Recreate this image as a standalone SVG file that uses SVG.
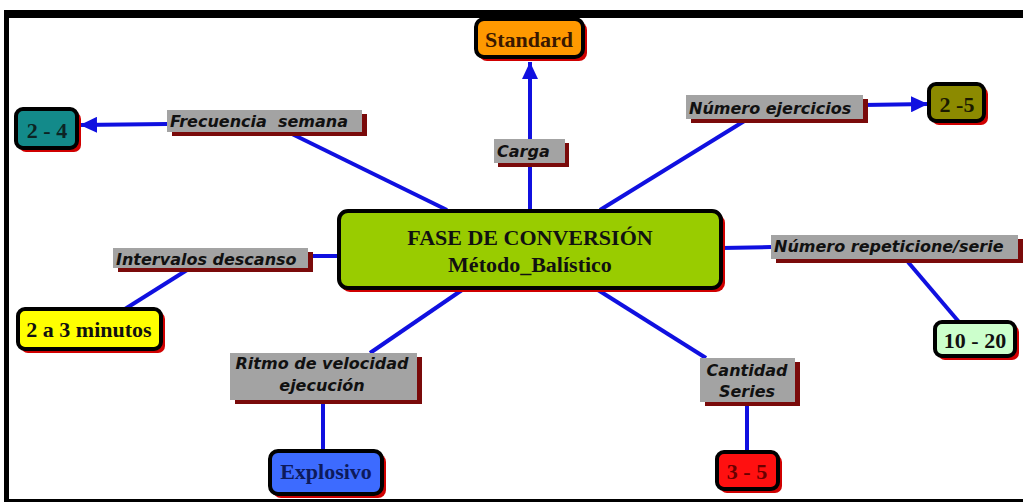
<svg xmlns="http://www.w3.org/2000/svg" width="1023" height="502" viewBox="0 0 1023 502">
  <defs>
    <marker id="arrow" markerUnits="userSpaceOnUse" markerWidth="18" markerHeight="16" refX="17" refY="8" orient="auto">
      <path d="M0,0 L17,8 L0,16 z" fill="#1010e0"/>
    </marker>
  </defs>
  <style>
    .frame { fill: #000; }
    .edge { stroke: #1010e0; stroke-width: 4; fill: none; }
    .nshadow { fill: #d00000; }
    .node { stroke: #000; stroke-width: 4; }
    .ntext { font-family: "Liberation Serif", "Times New Roman", serif; font-weight: bold; font-size: 22px; text-anchor: middle; fill: #111; }
    .lshadow { fill: #7a0a0a; }
    .lbox { fill: #a3a3a3; }
    .ltext { font-family: "DejaVu Sans", Verdana, sans-serif; font-weight: bold; font-style: italic; font-size: 16px; fill: #111; }
    .mid { text-anchor: middle; }
  </style>

  <rect width="1023" height="502" fill="#fff"/>

  <!-- outer frame -->
  <rect class="frame" x="4" y="10" width="1019" height="8"/>
  <rect class="frame" x="4" y="10" width="5" height="492"/>
  <rect class="frame" x="4" y="499" width="1019" height="3"/>

  <!-- connectors -->
  <g id="connectors">
    <line class="edge" x1="530" y1="210" x2="530" y2="163"/>
    <line class="edge" x1="530" y1="139" x2="530" y2="62" marker-end="url(#arrow)"/>
    <line class="edge" x1="447" y1="210" x2="290" y2="133"/>
    <line class="edge" x1="167" y1="124" x2="80" y2="125" marker-end="url(#arrow)"/>
    <line class="edge" x1="600" y1="210" x2="746" y2="120"/>
    <line class="edge" x1="863" y1="105" x2="928" y2="104" marker-end="url(#arrow)"/>
    <line class="edge" x1="722" y1="248" x2="771" y2="247"/>
    <line class="edge" x1="908" y1="262" x2="959" y2="322"/>
    <line class="edge" x1="337" y1="256" x2="310" y2="256"/>
    <line class="edge" x1="187" y1="270" x2="125" y2="309"/>
    <line class="edge" x1="462" y1="290" x2="370" y2="353"/>
    <line class="edge" x1="323" y1="400" x2="323" y2="450"/>
    <line class="edge" x1="598" y1="290" x2="706" y2="358"/>
    <line class="edge" x1="747" y1="402" x2="747" y2="452"/>
  </g>

  <!-- central concept -->
  <g id="fase-conversion">
    <rect class="nshadow" x="341" y="214" width="384" height="78" rx="9"/>
    <rect class="node" x="339" y="211" width="382" height="77" rx="9" fill="#99cc00"/>
    <text class="ntext" x="530" y="245">FASE DE CONVERSIÓN</text>
    <text class="ntext" x="530" y="272">Método_Balístico</text>
  </g>

  <!-- linking phrases -->
  <g id="lbl-carga">
    <rect class="lshadow" x="498" y="143" width="71" height="24"/>
    <rect class="lbox" x="494" y="139" width="71" height="24"/>
    <text class="ltext" x="497" y="157">Carga</text>
  </g>
  <g id="lbl-frecuencia">
    <rect class="lshadow" x="172" y="114" width="195" height="22"/>
    <rect class="lbox" x="167" y="110" width="195" height="22"/>
    <text class="ltext" x="170" y="127">Frecuencia &#160;semana</text>
  </g>
  <g id="lbl-ejercicios">
    <rect class="lshadow" x="691" y="99" width="177" height="24"/>
    <rect class="lbox" x="686" y="95" width="177" height="24"/>
    <text class="ltext" x="689" y="114">Número ejercicios</text>
  </g>
  <g id="lbl-repeticiones">
    <rect class="lshadow" x="776" y="239" width="247" height="24"/>
    <rect class="lbox" x="771" y="235" width="247" height="24"/>
    <text class="ltext" x="774" y="252">Número repeticione/serie</text>
  </g>
  <g id="lbl-intervalos">
    <rect class="lshadow" x="118" y="252" width="195" height="20"/>
    <rect class="lbox" x="113" y="248" width="195" height="20"/>
    <text class="ltext" x="116" y="265">Intervalos descanso</text>
  </g>
  <g id="lbl-ritmo">
    <rect class="lshadow" x="235" y="357" width="187" height="47"/>
    <rect class="lbox" x="230" y="353" width="187" height="47"/>
    <text class="ltext mid" x="322" y="369">Ritmo de velocidad</text>
    <text class="ltext mid" x="322" y="391">ejecución</text>
  </g>
  <g id="lbl-cantidad">
    <rect class="lshadow" x="705" y="362" width="95" height="44"/>
    <rect class="lbox" x="700" y="358" width="95" height="44"/>
    <text class="ltext mid" x="747" y="376">Cantidad</text>
    <text class="ltext mid" x="747" y="397">Series</text>
  </g>

  <!-- value concepts -->
  <g id="standard">
    <rect class="nshadow" x="479" y="22" width="108" height="39" rx="8"/>
    <rect class="node" x="476" y="19" width="107" height="38" rx="8" fill="#ff9900"/>
    <text class="ntext" x="529" y="47" fill="#3a1800" style="fill:#3a1800">Standard</text>
  </g>
  <g id="v-2-4">
    <rect class="nshadow" x="19" y="112" width="62" height="40" rx="7"/>
    <rect class="node" x="16" y="109" width="61" height="39" rx="7" fill="#138a8a"/>
    <text class="ntext" x="47" y="138" style="fill:#0c2424">2 - 4</text>
  </g>
  <g id="v-2-5">
    <rect class="nshadow" x="932" y="87" width="56" height="38" rx="7"/>
    <rect class="node" x="929" y="84" width="55" height="37" rx="7" fill="#8c8a00"/>
    <text class="ntext" x="957" y="112" style="fill:#1a1a00">2 -5</text>
  </g>
  <g id="v-10-20">
    <rect class="nshadow" x="938" y="325" width="81" height="35" rx="7"/>
    <rect class="node" x="935" y="322" width="80" height="34" rx="7" fill="#ccffcc"/>
    <text class="ntext" x="975" y="348">10 - 20</text>
  </g>
  <g id="v-2a3">
    <rect class="nshadow" x="21" y="312" width="144" height="41" rx="7"/>
    <rect class="node" x="18" y="309" width="143" height="40" rx="7" fill="#ffff00"/>
    <text class="ntext" x="89" y="337">2 a 3 minutos</text>
  </g>
  <g id="explosivo">
    <rect class="nshadow" x="273" y="454" width="113" height="44" rx="8"/>
    <rect class="node" x="270" y="451" width="112" height="43" rx="8" fill="#3d6bff"/>
    <text class="ntext" x="326" y="479" style="fill:#0d1a5c">Explosivo</text>
  </g>
  <g id="v-3-5">
    <rect class="nshadow" x="720" y="455" width="62" height="38" rx="7"/>
    <rect class="node" x="717" y="452" width="61" height="37" rx="7" fill="#ff1010"/>
    <text class="ntext" x="747" y="479" style="fill:#6a0000">3 - 5</text>
  </g>
</svg>
